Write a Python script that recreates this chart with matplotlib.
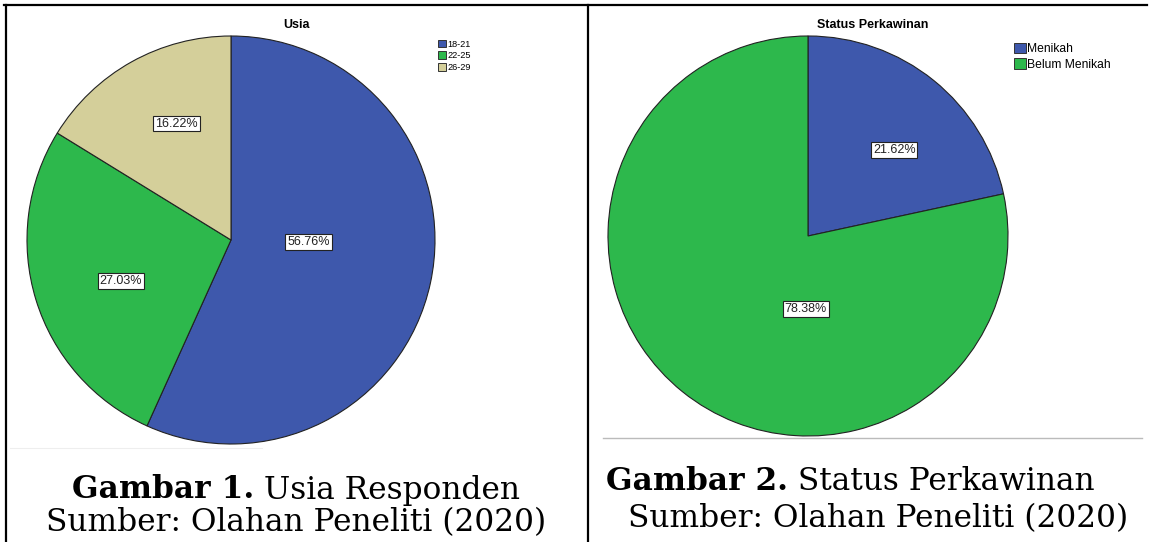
import numpy as np
import matplotlib
matplotlib.use("Agg")
import matplotlib.pyplot as plt
from matplotlib.lines import Line2D
from matplotlib.patches import Patch

# data
usia_labels = ['18-21', '22-25', '26-29']
usia_pct = [56.76, 27.03, 16.22]
status_labels = ['Menikah', 'Belum Menikah']
status_pct = [21.62, 78.38]

BLUE = '#3e58ac'
GREEN = '#2db84c'
TAN = '#d4cf9a'

W, H = 1150, 542
fig = plt.figure(figsize=(W / 100, H / 100), dpi=100)
fig.patch.set_facecolor('white')


def px_axes(cx, cy, r):
    # axes box (pixel coords, y from top) holding a pie of radius r
    return fig.add_axes([(cx - r) / W, (H - cy - r) / H, 2 * r / W, 2 * r / H])


def draw_pie(ax, values, colors, label_pos):
    wedges, _ = ax.pie(values, colors=colors, startangle=90, counterclock=False,
                       wedgeprops=dict(edgecolor='#222222', linewidth=0.8))
    ax.set_xlim(-1, 1)
    ax.set_ylim(-1, 1)
    ax.set_aspect('auto')
    for v, (ang, dist) in zip(values, label_pos):
        a = np.deg2rad(ang)
        ax.text(dist * np.cos(a), dist * np.sin(a), '%.2f%%' % v,
                ha='center', va='center', fontsize=9, family='Liberation Sans',
                color='#222222',
                bbox=dict(boxstyle='square,pad=0.15', fc='white', ec='#222222', lw=0.8))
    return wedges


# left pie: Usia
ax1 = px_axes(231, 240, 204)
draw_pie(ax1, usia_pct, [BLUE, GREEN, TAN], [(-1.5, 0.38), (-159.6, 0.575), (115, 0.63)])
fig.text(296 / W, 1 - 25 / H, 'Usia', ha='center', va='center', fontsize=9,
         fontweight='bold', family='Liberation Sans')
fig.legend(handles=[Patch(fc=c, ec='#333333', lw=0.7) for c in [BLUE, GREEN, TAN]],
           labels=usia_labels, loc='upper left', bbox_to_anchor=(433 / W, 1 - 35 / H),
           frameon=False, handlelength=0.9, handleheight=0.9,
           handletextpad=0.2, labelspacing=0.3, borderpad=0,
           prop={'family': 'Liberation Sans', 'size': 6.6})

# right pie: Status Perkawinan
ax2 = px_axes(808, 236, 200)
draw_pie(ax2, status_pct, [BLUE, GREEN], [(45, 0.61), (-91.6, 0.365)])
fig.text(873 / W, 1 - 25 / H, 'Status Perkawinan', ha='center', va='center', fontsize=9,
         fontweight='bold', family='Liberation Sans')
fig.legend(handles=[Patch(fc=c, ec='#333333', lw=0.7) for c in [BLUE, GREEN]],
           labels=status_labels, loc='upper left', bbox_to_anchor=(1008 / W, 1 - 37 / H),
           frameon=False, handlelength=0.95, handleheight=0.95,
           handletextpad=0.15, labelspacing=0.25, borderpad=0,
           prop={'family': 'Liberation Sans', 'size': 8.7})

# frame lines
def fline(x0, y0, x1, y1, **kw):
    fig.add_artist(Line2D([x0 / W, x1 / W], [1 - y0 / H, 1 - y1 / H],
                          transform=fig.transFigure, **kw))

fline(4, 5, 1147, 5, color='black', lw=1.6)
fline(6, 5, 6, 542, color='black', lw=1.6)
fline(588, 5, 588, 542, color='black', lw=1.6)
fline(10, 448, 262, 448, color='#eeeeee', lw=0.8)
fline(603, 438, 1142, 438, color='#bbbbbb', lw=1.0)

# captions
CAP = 22.5
fig.canvas.draw()
renderer = fig.canvas.get_renderer()


def caption(x, y, bold, normal, center):
    tb = fig.text(0, 1 - y / H, bold, fontsize=CAP, fontweight='bold', family='DejaVu Serif',
                  va='center', ha='left')
    tn = fig.text(0, 1 - y / H, normal, fontsize=CAP, family='DejaVu Serif',
                  va='center', ha='left')
    wb = tb.get_window_extent(renderer).width
    wn = tn.get_window_extent(renderer).width
    x0 = x - (wb + wn) / 2 if center else x
    tb.set_x(x0 / W)
    tn.set_x((x0 + wb) / W)


caption(296, 490, 'Gambar 1.', ' Usia Responden', True)
fig.text(296 / W, 1 - 523 / H, 'Sumber: Olahan Peneliti (2020)', fontsize=CAP,
         family='DejaVu Serif', ha='center', va='center')
caption(606, 481, 'Gambar 2.', ' Status Perkawinan', False)
fig.text(878 / W, 1 - 519 / H, 'Sumber: Olahan Peneliti (2020)', fontsize=CAP,
         family='DejaVu Serif', ha='center', va='center')

fig.savefig('out.png', dpi=100)
